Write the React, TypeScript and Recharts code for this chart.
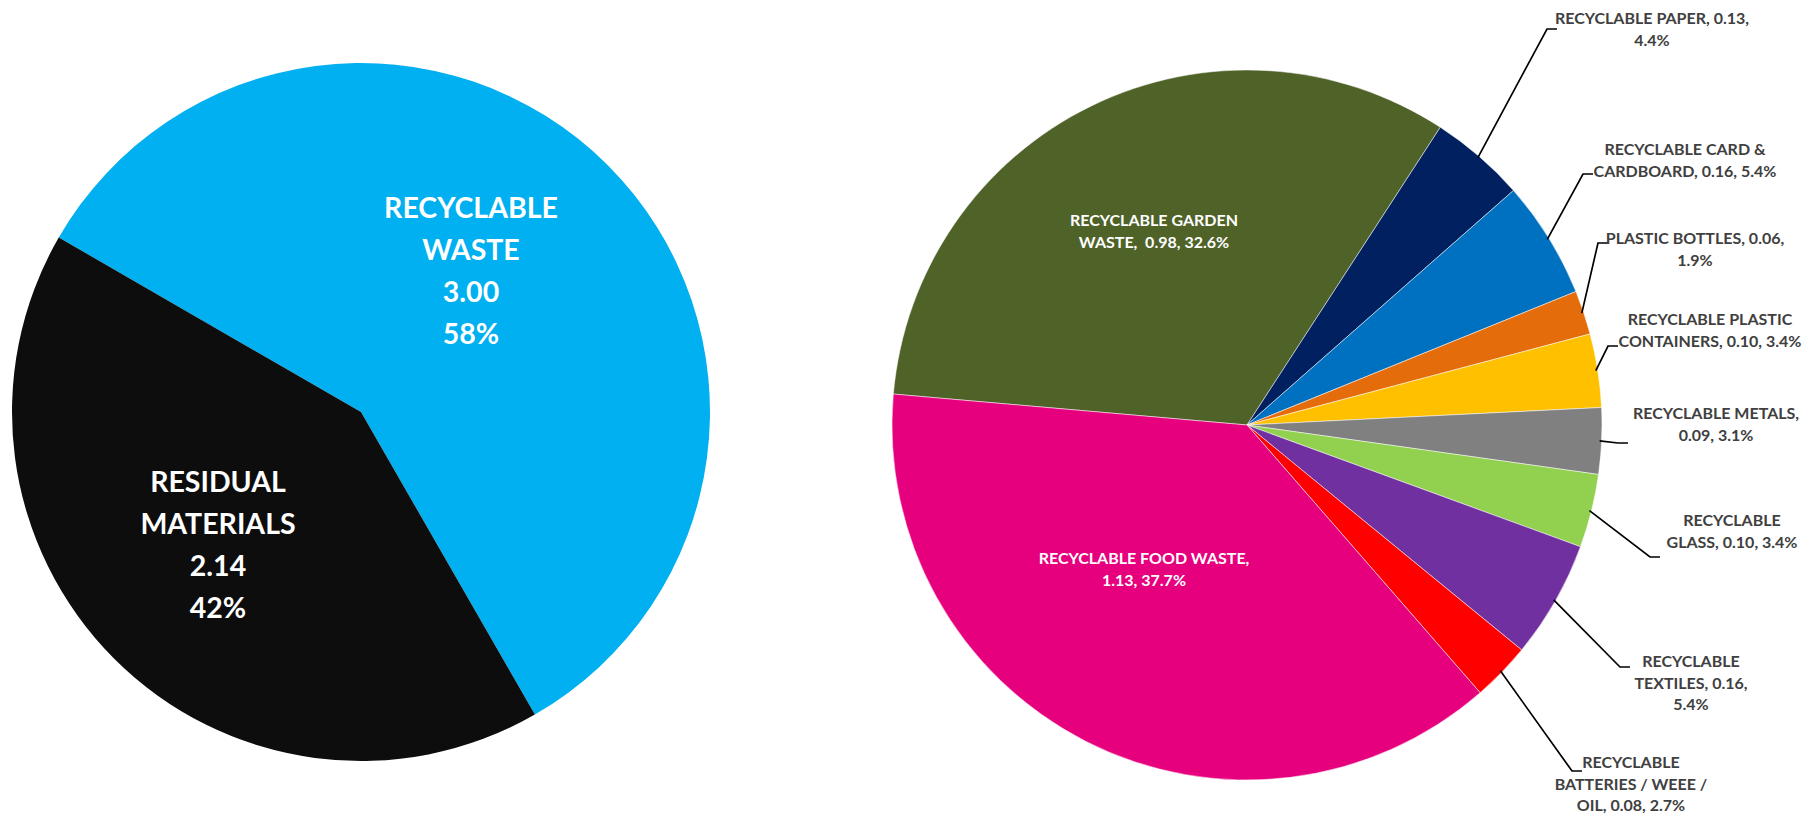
import { Cell, Pie, PieChart } from "recharts";

// left pie: overall split
const overviewNames = ["RECYCLABLE WASTE", "RESIDUAL MATERIALS"];
const overviewValues = [3.0, 2.14];
const overviewShares = ["58%", "42%"];
const overviewLabelLines = [
  ["RECYCLABLE", "WASTE", "3.00", "58%"],
  ["RESIDUAL", "MATERIALS", "2.14", "42%"],
];
const overviewColors = ["#00B0F0", "#0D0D0D"];

// right pie: recyclable breakdown (clockwise from garden waste)
const breakdownNames = [
  "RECYCLABLE GARDEN WASTE",
  "RECYCLABLE PAPER",
  "RECYCLABLE CARD & CARDBOARD",
  "PLASTIC BOTTLES",
  "RECYCLABLE PLASTIC CONTAINERS",
  "RECYCLABLE METALS",
  "RECYCLABLE GLASS",
  "RECYCLABLE TEXTILES",
  "RECYCLABLE BATTERIES / WEEE / OIL",
  "RECYCLABLE FOOD WASTE",
];
const breakdownValues = [0.98, 0.13, 0.16, 0.06, 0.1, 0.09, 0.1, 0.16, 0.08, 1.13];
const breakdownShares = ["32.6%", "4.4%", "5.4%", "1.9%", "3.4%", "3.1%", "3.4%", "5.4%", "2.7%", "37.7%"];
const breakdownLabelLines = [
  ["RECYCLABLE GARDEN", "WASTE,  0.98, 32.6%"],
  ["RECYCLABLE PAPER, 0.13,", "4.4%"],
  ["RECYCLABLE CARD &", "CARDBOARD, 0.16, 5.4%"],
  ["PLASTIC BOTTLES, 0.06,", "1.9%"],
  ["RECYCLABLE PLASTIC", "CONTAINERS, 0.10, 3.4%"],
  ["RECYCLABLE METALS,", "0.09, 3.1%"],
  ["RECYCLABLE", "GLASS, 0.10, 3.4%"],
  ["RECYCLABLE", "TEXTILES, 0.16,", "5.4%"],
  ["RECYCLABLE", "BATTERIES / WEEE /", "OIL, 0.08, 2.7%"],
  ["RECYCLABLE FOOD WASTE,", "1.13, 37.7%"],
];
const breakdownColors = [
  "#4F6228",
  "#002060",
  "#0070C0",
  "#E46C0A",
  "#FFC000",
  "#808080",
  "#92D050",
  "#7030A0",
  "#FF0000",
  "#E6007E",
];

const overviewData = overviewNames.map((name, i) => ({
  name,
  value: overviewValues[i],
  share: overviewShares[i],
}));
const breakdownData = breakdownNames.map((name, i) => ({
  name,
  value: breakdownValues[i],
  share: breakdownShares[i],
}));

// label placement, relative to each pie's centre (labels were dragged by hand in the original)
const overviewLabelAt = [
  [110, -141],
  [-143, 133],
];
const breakdownLabelAt = [
  [-93, -194],
  [405, -396],
  [438, -265],
  [448, -176],
  [463, -95],
  [469, -1],
  [485, 106],
  [444, 258],
  [384, 359],
  [-103, 144],
];
// where a leader line meets its label; null = label sits inside the slice
const breakdownLeaderAt: (number[] | null)[] = [
  null,
  [310, -396],
  [346, -251],
  [361, -182],
  [371, -79],
  [381, 18],
  [413, 132],
  [383, 242],
  [335, 346],
  null,
];

const RAD = Math.PI / 180;
const FONT = "Lato, 'Open Sans', sans-serif";

function polar(cx: number, cy: number, r: number, angle: number) {
  return { x: cx + r * Math.cos(-angle * RAD), y: cy + r * Math.sin(-angle * RAD) };
}

function BlockText({
  x,
  y,
  lines,
  size,
  lineHeight,
  color,
}: {
  x: number;
  y: number;
  lines: string[];
  size: number;
  lineHeight: number;
  color: string;
}) {
  const first = y - ((lines.length - 1) * lineHeight) / 2 + size * 0.36;
  return (
    <text
      x={x}
      y={first}
      textAnchor="middle"
      fill={color}
      fontFamily={FONT}
      fontWeight={700}
      fontSize={size}
      style={{ whiteSpace: "pre" }}
    >
      {lines.map((line, i) => (
        <tspan key={i} x={x} dy={i === 0 ? 0 : lineHeight}>
          {line}
        </tspan>
      ))}
    </text>
  );
}

const renderOverviewLabel = (props: any) => {
  const { cx, cy, index } = props;
  const [dx, dy] = overviewLabelAt[index];
  return (
    <BlockText
      key={`ov-${index}`}
      x={cx + dx}
      y={cy + dy}
      lines={overviewLabelLines[index]}
      size={28.5}
      lineHeight={42}
      color="#FFFFFF"
    />
  );
};

const renderBreakdownLabel = (props: any) => {
  const { cx, cy, index, midAngle, outerRadius } = props;
  const [dx, dy] = breakdownLabelAt[index];
  const leader = breakdownLeaderAt[index];
  const inside = leader === null;
  let path = null;
  if (leader) {
    const start = polar(cx, cy, outerRadius - 2, midAngle);
    const ax = cx + leader[0];
    const ay = cy + leader[1];
    path = (
      <path
        d={`M${start.x},${start.y}L${ax - 10},${ay}L${ax},${ay}`}
        stroke="#000000"
        strokeWidth={1.7}
        fill="none"
      />
    );
  }
  return (
    <g key={`bd-${index}`}>
      {path}
      <BlockText
        x={cx + dx}
        y={cy + dy}
        lines={breakdownLabelLines[index]}
        size={16}
        lineHeight={21.5}
        color={inside ? "#FFFFFF" : "#404040"}
      />
    </g>
  );
};

export default function App() {
  return (
    <div
      style={{
        position: "absolute",
        left: 0,
        top: 0,
        width: 1820,
        height: 819,
        background: "#ffffff",
      }}
    >
      <PieChart width={1820} height={819} margin={{ top: 0, right: 0, bottom: 0, left: 0 }}>
        <Pie
          data={overviewData}
          dataKey="value"
          nameKey="name"
          cx={361}
          cy={412}
          outerRadius={349}
          startAngle={150}
          endAngle={-210}
          stroke="none"
          label={renderOverviewLabel}
          labelLine={false}
          isAnimationActive={false}
        >
          {overviewData.map((entry, i) => (
            <Cell key={entry.name} fill={overviewColors[i]} />
          ))}
        </Pie>
        <Pie
          data={breakdownData}
          dataKey="value"
          nameKey="name"
          cx={1247}
          cy={425}
          outerRadius={355}
          startAngle={175}
          endAngle={-185}
          stroke="#ffffff"
          strokeWidth={0.5}
          label={renderBreakdownLabel}
          labelLine={false}
          isAnimationActive={false}
        >
          {breakdownData.map((entry, i) => (
            <Cell key={entry.name} fill={breakdownColors[i]} />
          ))}
        </Pie>
      </PieChart>
    </div>
  );
}
